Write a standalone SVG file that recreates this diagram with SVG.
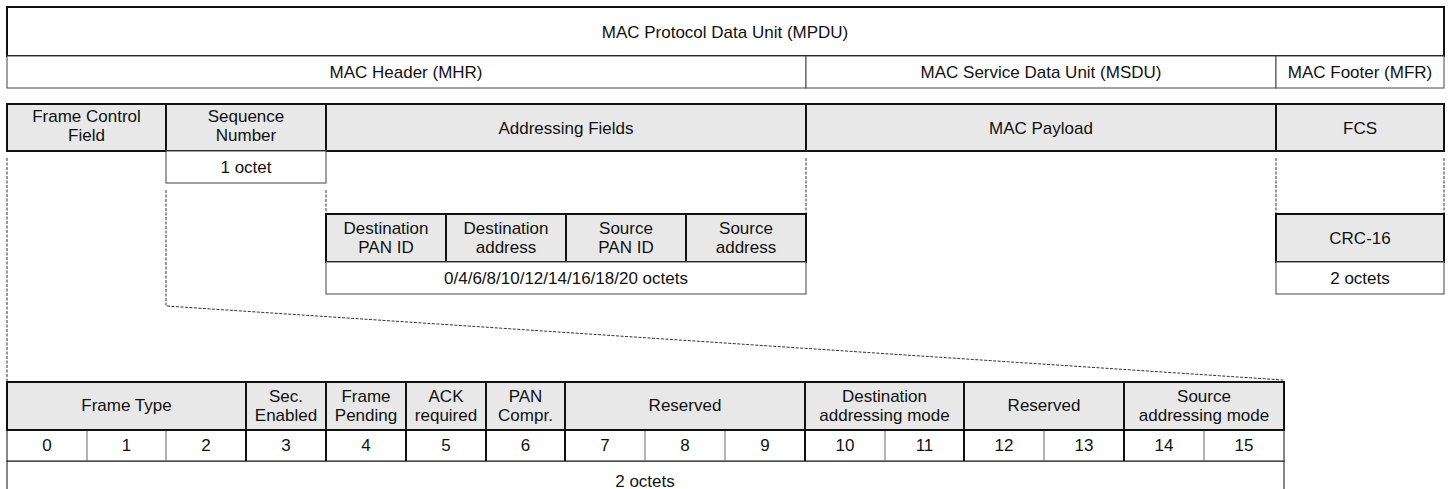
<svg xmlns="http://www.w3.org/2000/svg" width="1455" height="489" viewBox="0 0 1455 489">
<style>
text{font-family:"Liberation Sans",Arial,sans-serif;font-size:17px;fill:#111;text-anchor:middle}
.thick{fill:#e8e8e8;stroke:#111;stroke-width:2}
.thin{fill:#fff;stroke:#444;stroke-width:1}
.frame{fill:#fff;stroke:#111;stroke-width:2}
.cell{stroke:#666;stroke-width:1}
.sep{stroke:#111;stroke-width:2}
.dash{fill:none;stroke:#333;stroke-width:1;stroke-dasharray:3,1.5}
</style>
<rect width="1455" height="489" fill="#fff"/>
<g id="mpdu"><rect class="frame" x="7" y="7" width="1437" height="49"/><text x="725" y="37.5">MAC Protocol Data Unit (MPDU)</text></g>
<g id="mhr"><rect class="thin" x="7" y="56" width="799" height="32"/><text x="406" y="78">MAC Header (MHR)</text></g>
<g id="msdu"><rect class="thin" x="806" y="56" width="470" height="32"/><text x="1041" y="78">MAC Service Data Unit (MSDU)</text></g>
<g id="mfr"><rect class="thin" x="1276" y="56" width="168" height="32"/><text x="1360" y="78">MAC Footer (MFR)</text></g>

<g id="fcf"><rect class="thick" x="7" y="104" width="159" height="47"/><text x="86.5" y="122">Frame Control</text><text x="86.5" y="141">Field</text></g>
<g id="seq"><rect class="thick" x="166" y="104" width="160" height="47"/><text x="246" y="122">Sequence</text><text x="246" y="141">Number</text></g>
<g id="addr"><rect class="thick" x="326" y="104" width="480" height="47"/><text x="566" y="133.5">Addressing Fields</text></g>
<g id="payload"><rect class="thick" x="806" y="104" width="470" height="47"/><text x="1041" y="133.5">MAC Payload</text></g>
<g id="fcs"><rect class="thick" x="1276" y="104" width="168" height="47"/><text x="1360" y="133.5">FCS</text></g>
<g id="seq-len"><rect class="thin" x="166" y="151" width="160" height="32"/><text x="246" y="173">1 octet</text></g>

<g id="dst-pan"><rect class="thick" x="326" y="214" width="120" height="48"/><text x="386" y="234">Destination</text><text x="386" y="253">PAN ID</text></g>
<g id="dst-addr"><rect class="thick" x="446" y="214" width="120" height="48"/><text x="506" y="234">Destination</text><text x="506" y="253">address</text></g>
<g id="src-pan"><rect class="thick" x="566" y="214" width="120" height="48"/><text x="626" y="234">Source</text><text x="626" y="253">PAN ID</text></g>
<g id="src-addr"><rect class="thick" x="686" y="214" width="120" height="48"/><text x="746" y="234">Source</text><text x="746" y="253">address</text></g>
<g id="addr-len"><rect class="thin" x="326" y="262" width="480" height="32"/><text x="566" y="284">0/4/6/8/10/12/14/16/18/20 octets</text></g>

<g id="crc"><rect class="thick" x="1276" y="214" width="168" height="48"/><text x="1360" y="244">CRC-16</text></g>
<g id="crc-len"><rect class="thin" x="1276" y="262" width="168" height="32"/><text x="1360" y="284">2 octets</text></g>

<g id="fc-len"><rect class="thin" x="7" y="461" width="1277" height="40" style="stroke:#111"/><text x="645" y="487">2 octets</text></g>
<g id="bits">
<rect x="7" y="430" width="1277" height="31" fill="#fff" stroke="#111" stroke-width="1"/>
<line class="cell" x1="87" y1="430" x2="87" y2="461"/>
<line class="cell" x1="166" y1="430" x2="166" y2="461"/>
<line class="cell" x1="645" y1="430" x2="645" y2="461"/>
<line class="cell" x1="725" y1="430" x2="725" y2="461"/>
<line class="cell" x1="885" y1="430" x2="885" y2="461"/>
<line class="cell" x1="1044" y1="430" x2="1044" y2="461"/>
<line class="cell" x1="1204" y1="430" x2="1204" y2="461"/>
<line class="sep" x1="246" y1="430" x2="246" y2="461"/>
<line class="sep" x1="326" y1="430" x2="326" y2="461"/>
<line class="sep" x1="406" y1="430" x2="406" y2="461"/>
<line class="sep" x1="486" y1="430" x2="486" y2="461"/>
<line class="sep" x1="565" y1="430" x2="565" y2="461"/>
<line class="sep" x1="805" y1="430" x2="805" y2="461"/>
<line class="sep" x1="964" y1="430" x2="964" y2="461"/>
<line class="sep" x1="1124" y1="430" x2="1124" y2="461"/>
<text x="47" y="451">0</text><text x="126.5" y="451">1</text><text x="206" y="451">2</text><text x="286" y="451">3</text>
<text x="366" y="451">4</text><text x="446" y="451">5</text><text x="525.5" y="451">6</text><text x="605" y="451">7</text>
<text x="685" y="451">8</text><text x="765" y="451">9</text><text x="845" y="451">10</text><text x="924.5" y="451">11</text>
<text x="1004" y="451">12</text><text x="1084" y="451">13</text><text x="1164" y="451">14</text><text x="1244" y="451">15</text>
</g>
<g id="frame-type"><rect class="thick" x="7" y="382" width="239" height="48"/><text x="126.5" y="411">Frame Type</text></g>
<g id="sec"><rect class="thick" x="246" y="382" width="80" height="48"/><text x="286" y="402">Sec.</text><text x="286" y="421">Enabled</text></g>
<g id="pending"><rect class="thick" x="326" y="382" width="80" height="48"/><text x="366" y="402">Frame</text><text x="366" y="421">Pending</text></g>
<g id="ack"><rect class="thick" x="406" y="382" width="80" height="48"/><text x="446" y="402">ACK</text><text x="446" y="421">required</text></g>
<g id="pan"><rect class="thick" x="486" y="382" width="79" height="48"/><text x="525.5" y="402">PAN</text><text x="525.5" y="421">Compr.</text></g>
<g id="res1"><rect class="thick" x="565" y="382" width="240" height="48"/><text x="685" y="411">Reserved</text></g>
<g id="dst-mode"><rect class="thick" x="805" y="382" width="159" height="48"/><text x="884.5" y="402">Destination</text><text x="884.5" y="421">addressing mode</text></g>
<g id="res2"><rect class="thick" x="964" y="382" width="160" height="48"/><text x="1044" y="411">Reserved</text></g>
<g id="src-mode"><rect class="thick" x="1124" y="382" width="160" height="48"/><text x="1204" y="402">Source</text><text x="1204" y="421">addressing mode</text></g>

<g id="connectors">
<line class="dash" x1="7" y1="158" x2="7" y2="381"/>
<polyline class="dash" points="166,190 166,306 1283,380"/>
<line class="dash" x1="326" y1="190" x2="326" y2="213"/>
<line class="dash" x1="806" y1="158" x2="806" y2="213"/>
<line class="dash" x1="1276" y1="158" x2="1276" y2="213"/>
<line class="dash" x1="1444" y1="158" x2="1444" y2="213"/>
</g>
</svg>
